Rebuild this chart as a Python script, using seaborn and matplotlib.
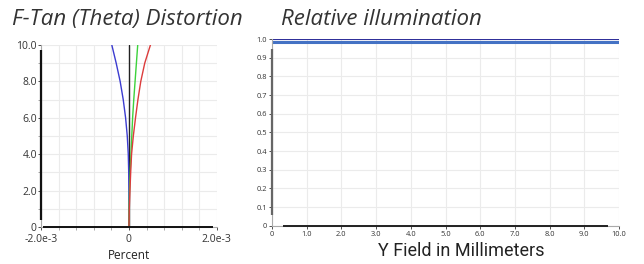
import matplotlib
matplotlib.use("Agg")
import matplotlib.pyplot as plt
import seaborn as sns
import pandas as pd

# distortion curves (percent) vs field (mm)
field = [0, 1, 2, 3, 4, 5, 6, 7, 8, 9, 10]
dist_blue = [0, 0, -1e-6, -5e-6, -1.5e-5, -3.8e-5, -7.6e-5, -1.3e-4, -2.0e-4, -2.9e-4, -3.9e-4]
dist_green = [0, 2e-6, 1.2e-5, 2.8e-5, 4.6e-5, 6.5e-5, 8.4e-5, 1.1e-4, 1.4e-4, 1.7e-4, 2.0e-4]
dist_red = [0, 8e-6, 2.3e-5, 4e-5, 6e-5, 1.0e-4, 1.5e-4, 2.05e-4, 2.7e-4, 3.6e-4, 4.9e-4]
dist_black = [0, 0, 0, 0, 0, 0, 0, 0, 0, 0, 0]

# relative illumination vs Y field (mm)
ri_field = [0, 10]
ri_main = [0.985, 0.985]
ri_ref = [1.0, 1.0]

left_xticks = [-2e-3, 0, 2e-3]
left_xlabels = ["-2.0e-3", "0", "2.0e-3"]
left_yticks = [0, 2, 4, 6, 8, 10]
left_ylabels = ["0", "2.0", "4.0", "6.0", "8.0", "10.0"]
right_xticks = [0, 1, 2, 3, 4, 5, 6, 7, 8, 9, 10]
right_xlabels = ["0"] + [f"{v:.1f}" for v in right_xticks[1:]]
right_yticks = [0, .1, .2, .3, .4, .5, .6, .7, .8, .9, 1.0]
right_ylabels = ["0"] + [f"{v:.1f}" for v in right_yticks[1:]]

sns.set_style("whitegrid", {"grid.color": "#ebebeb", "axes.edgecolor": "#aaaaaa"})
plt.rcParams["font.family"] = ["Open Sans", "DejaVu Sans"]

fig = plt.figure(figsize=(6.44, 2.64), dpi=100)
ax1 = fig.add_axes([0.0637, 0.140, 0.273, 0.690])
ax2 = fig.add_axes([0.4224, 0.145, 0.5388, 0.707])

# ---- left: F-Tan(Theta) distortion
df = pd.DataFrame({
    "field": field * 4,
    "pct": dist_black + dist_blue + dist_green + dist_red,
    "curve": ["k"] * 11 + ["b"] * 11 + ["g"] * 11 + ["r"] * 11,
})
pal = {"k": "#222222", "b": "#3c3cd0", "g": "#3cd23c", "r": "#dc3c3c"}
sns.lineplot(data=df, x="pct", y="field", hue="curve", palette=pal, sort=False,
             estimator=None, lw=1.0, legend=False, ax=ax1)
ax1.set_xlim(-2e-3, 2e-3)
ax1.set_ylim(0, 10)
ax1.set_xticks([-2e-3 + 4e-4 * i for i in range(11)], minor=True)
ax1.set_yticks(range(11), minor=True)
ax1.set_xticks(left_xticks)
ax1.set_xticklabels(left_xlabels)
ax1.set_yticks(left_yticks)
ax1.set_yticklabels(left_ylabels)
ax1.grid(True, which="both", color="#ebebeb", lw=0.8)
ax1.tick_params(labelsize=7.5, colors="#333333", length=2, width=0.6, pad=1)
ax1.tick_params(axis="x", pad=3)
ax1.tick_params(which="minor", length=2, width=0.6, color="#999999")
ax1.tick_params(axis="both", which="both", bottom=True, left=True)
ax1.set_xlabel("Percent", fontsize=8.5, color="#222222", labelpad=3)
ax1.set_ylabel("")
for s in ["top", "right"]:
    ax1.spines[s].set_visible(False)
ax1.axvline(-2e-3, ymin=0.04, ymax=0.97, color="#111111", lw=1.6, clip_on=False,
            solid_capstyle="butt", zorder=3)
ax1.axhline(0, xmin=0.01, xmax=0.98, color="#111111", lw=1.4, clip_on=False,
            solid_capstyle="butt", zorder=3)

# ---- right: relative illumination
sns.lineplot(x=ri_field, y=ri_ref, color="#30309a", lw=0.8, ax=ax2)
sns.lineplot(x=ri_field, y=ri_main, color="#4472c4", lw=2.2, ax=ax2)
ax2.set_xlim(0, 10)
ax2.set_ylim(0, 1.0)
ax2.set_xticks(right_xticks)
ax2.set_xticklabels(right_xlabels)
ax2.set_yticks(right_yticks)
ax2.set_yticklabels(right_ylabels)
ax2.grid(True, color="#ebebeb", lw=0.8)
ax2.tick_params(labelsize=5.4, colors="#333333", length=2, width=0.6, pad=1.5)
ax2.tick_params(axis="both", bottom=True, left=True)
ax2.set_xlabel("Y Field in Millimeters", fontsize=13, color="#222222",
               family=["Roboto", "DejaVu Sans"])
ax2.xaxis.set_label_coords(0.545, -0.085, transform=ax2.transAxes)
ax2.xaxis.label.set_va("top")
for s in ["top", "right"]:
    ax2.spines[s].set_visible(False)
ax2.axvline(0, ymin=0.057, ymax=0.946, color="#666666", lw=1.6, clip_on=False,
            solid_capstyle="butt", zorder=3)
ax2.axhline(0, xmin=0.032, xmax=0.968, color="#222222", lw=1.4, clip_on=False,
            solid_capstyle="butt", zorder=3)

fig.text(0.019, 0.905, "F-Tan (Theta) Distortion", fontsize=16, style="italic", color="#333333")
fig.text(0.436, 0.905, "Relative illumination", fontsize=16, style="italic", color="#333333")

fig.savefig("out.png", dpi=100)
